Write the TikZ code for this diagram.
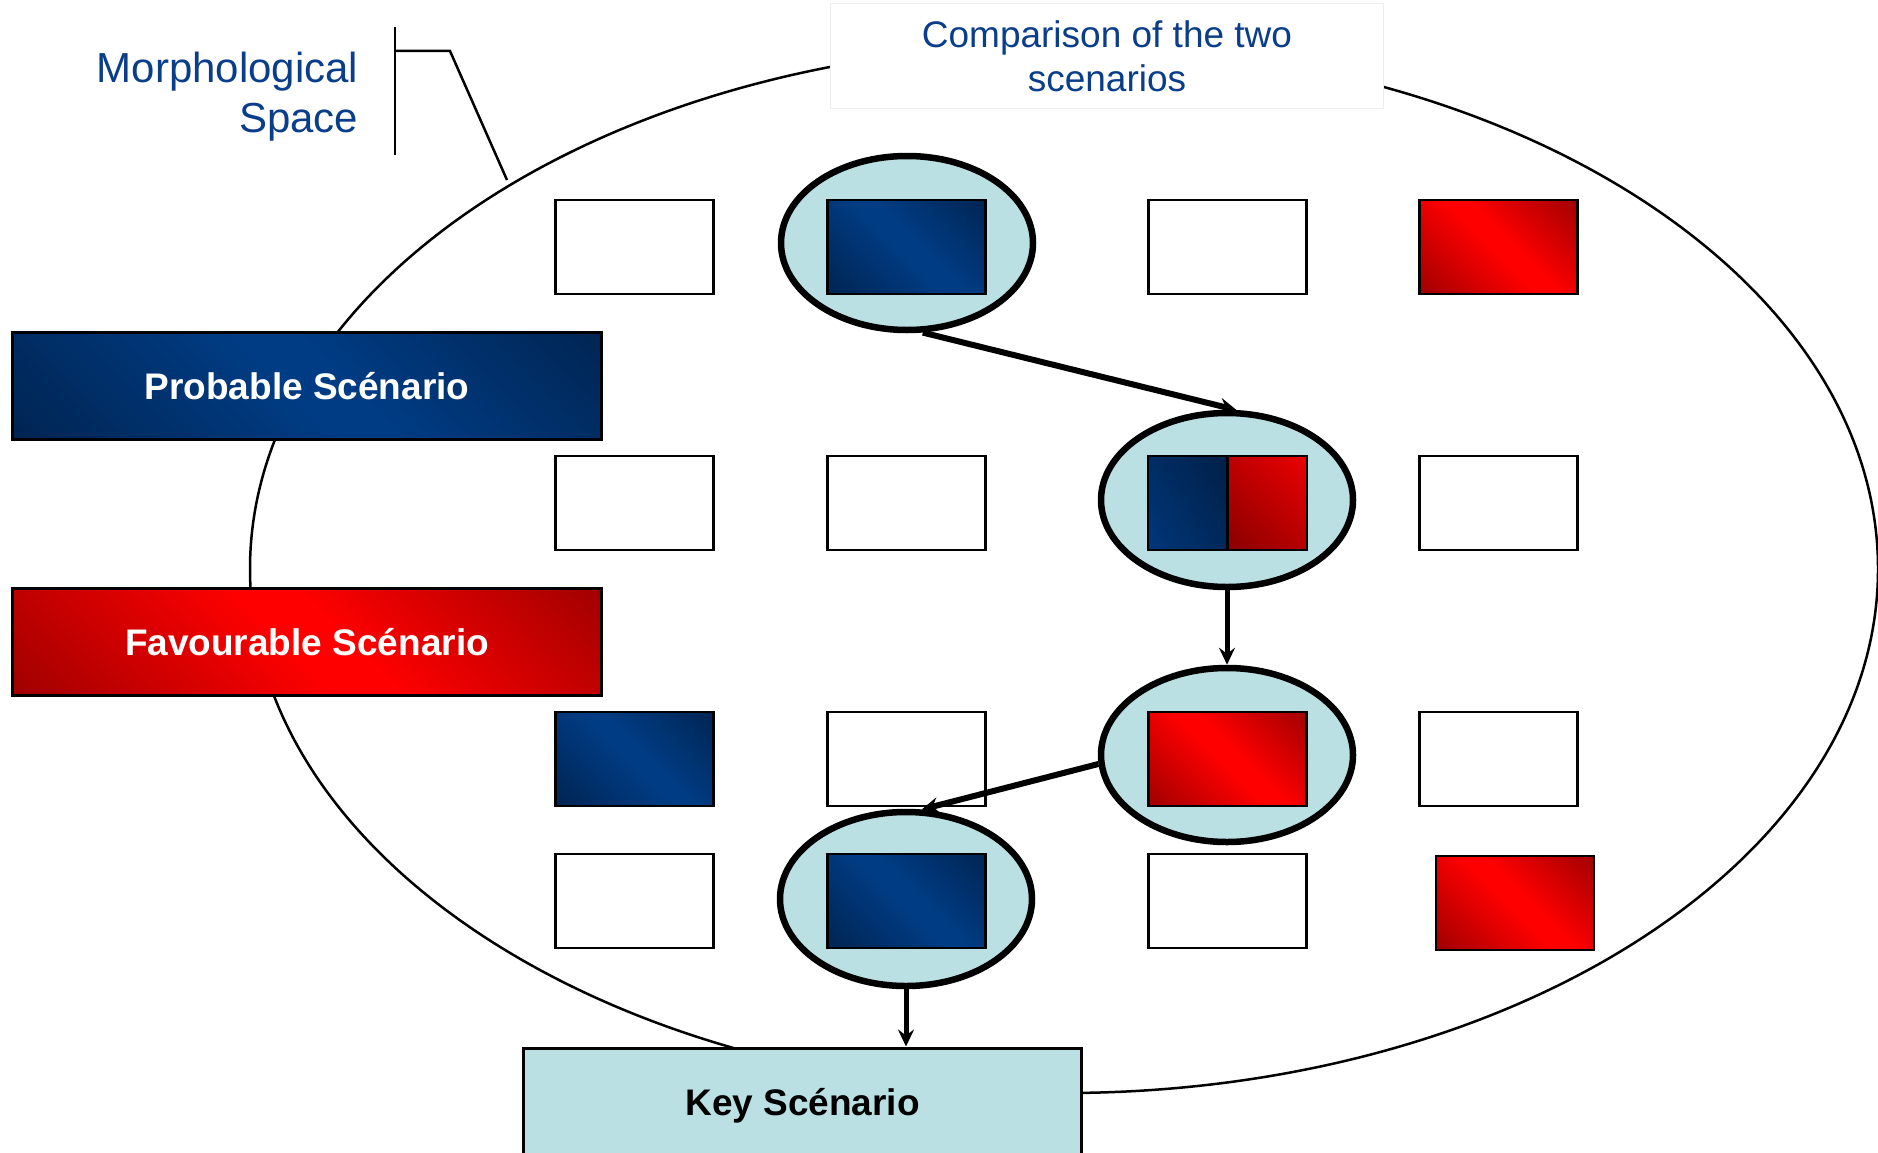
\documentclass[tikz,border=0pt]{standalone}
\usepackage{fontspec}
\setmainfont{Liberation Sans}
\usetikzlibrary{shapes.geometric,arrows.meta,calc}

\definecolor{bluebright}{RGB}{0,60,132}
\definecolor{bluedark}{RGB}{0,26,60}
\definecolor{redbright}{RGB}{255,0,0}
\definecolor{reddark}{RGB}{118,0,0}
\definecolor{paleteal}{RGB}{187,224,227}
\definecolor{labelblue}{RGB}{10,61,138}
\definecolor{faintgray}{RGB}{238,238,238}

% diagonal gradients: dark corners, bright band across the middle
\pgfdeclarehorizontalshading{bluediag}{100bp}{color(0bp)=(bluedark); color(48bp)=(bluebright); color(54bp)=(bluebright); color(100bp)=(bluedark)}
\pgfdeclarehorizontalshading{reddiag}{100bp}{color(0bp)=(reddark); color(48bp)=(redbright); color(54bp)=(redbright); color(100bp)=(reddark)}
% one-way gradients for the split cell
\pgfdeclarehorizontalshading{bluefade}{100bp}{color(0bp)=(bluebright); color(100bp)=(bluedark)}
\pgfdeclarehorizontalshading{redrise}{100bp}{color(0bp)=(reddark); color(100bp)=(redbright)}

\tikzset{
  cell/.style={draw=black, line width=2.8pt, minimum width=158pt, minimum height=94pt, inner sep=0pt, fill=white},
  bluecell/.style={cell, shading=bluediag, shading angle=45},
  redcell/.style={cell, shading=reddiag, shading angle=45},
  pick/.style={ellipse, draw=black, line width=6.5pt, fill=paleteal, minimum width=252pt, minimum height=174pt, inner sep=0pt},
  flow/.style={line width=6pt, -{Stealth[length=17pt, width=16pt, inset=6pt]}},
  banner/.style={draw=black, line width=3pt, minimum width=589pt, minimum height=107pt, inner sep=0pt,
    text=white, font=\bfseries\fontsize{37}{44}\selectfont, shading angle=45},
  bluetext/.style={text=labelblue, font=\fontsize{42}{50}\selectfont},
}

\begin{document}
\begin{tikzpicture}[x=1pt, y=-1pt]
\useasboundingbox (0,0) rectangle (1878,1153);
\clip (0,0) rectangle (1878,1153);

% the morphological space
\draw[line width=2.5pt] (1064,569) ellipse [x radius=814, y radius=524];

% highlighted choices
\node[pick] (E1) at (907,243) {};
\node[pick] (E2) at (1227,500) {};
\node[pick] (E3) at (1227,755) {};
\node[pick] (E4) at (906,899) {};

% row 1
\node[cell]     (r1c1) at (634.75,247) {};
\node[bluecell] (r1c2) at (906.5,247) {};
\node[cell]     (r1c3) at (1227.5,247) {};
\node[redcell]  (r1c4) at (1498.5,247) {};
% row 2
\node[cell] (r2c1) at (634.75,503) {};
\node[cell] (r2c2) at (906.5,503) {};
\node[cell, minimum width=79pt, shading=bluefade, shading angle=30] (r2c3a) at (1187.5,503) {};
\node[cell, minimum width=79pt, shading=redrise, shading angle=45] (r2c3b) at (1267.5,503) {};
\node[cell] (r2c4) at (1498.5,503) {};
% row 3
\node[bluecell] (r3c1) at (634.75,759) {};
\node[cell]     (r3c2) at (906.5,759) {};
\node[redcell]  (r3c3) at (1227.5,759) {};
\node[cell]     (r3c4) at (1498.5,759) {};
% row 4
\node[cell]     (r4c1) at (634.75,901) {};
\node[bluecell] (r4c2) at (906.5,901) {};
\node[cell]     (r4c3) at (1227.5,901) {};
\node[redcell]  (r4c4) at (1515,903) {};

% scenario labels
\node[banner, shading=bluediag] (probable) at (307,386) {Probable Scénario};
\node[banner, shading=reddiag] (favourable) at (307,642) {Favourable Scénario};
\node[draw=black, line width=3pt, fill=paleteal, minimum width=558pt, minimum height=116pt, inner sep=0pt,
  font=\bfseries\fontsize{37}{44}\selectfont] (key) at (802.5,1106) {Key Scénario};

% heading
\node[draw=faintgray, line width=1pt, fill=white, minimum width=553pt, minimum height=105pt, inner sep=0pt,
  align=center, text=labelblue, font=\fontsize{37}{44}\selectfont] (compare) at (1107,56)
  {Comparison of the two\\scenarios};

% space label and its bracket
\node[bluetext, align=right, anchor=north east, inner sep=0pt] (space) at (358.5,52) {Morphological\\Space};
\coordinate (bartop) at (395,27);
\coordinate (barbot) at (395,155);
\coordinate (barmid) at (395,51);
\coordinate (elbow) at (450,51);
\coordinate (touch) at (507,180);
\draw[line width=2.5pt] (bartop) -- (barbot);
\draw[line width=2.5pt] (barmid) -- (elbow) -- (touch);

% path through the choices
\draw[flow] (E1.-80) -- (E2.84);
\draw[flow, line width=5pt] (E2.south) -- (E3.north);
\draw[flow] (E3.184) -- (E4.80);
\draw[flow, line width=5pt] (E4.south) -- (E4.south |- key.north);
\end{tikzpicture}
\end{document}
